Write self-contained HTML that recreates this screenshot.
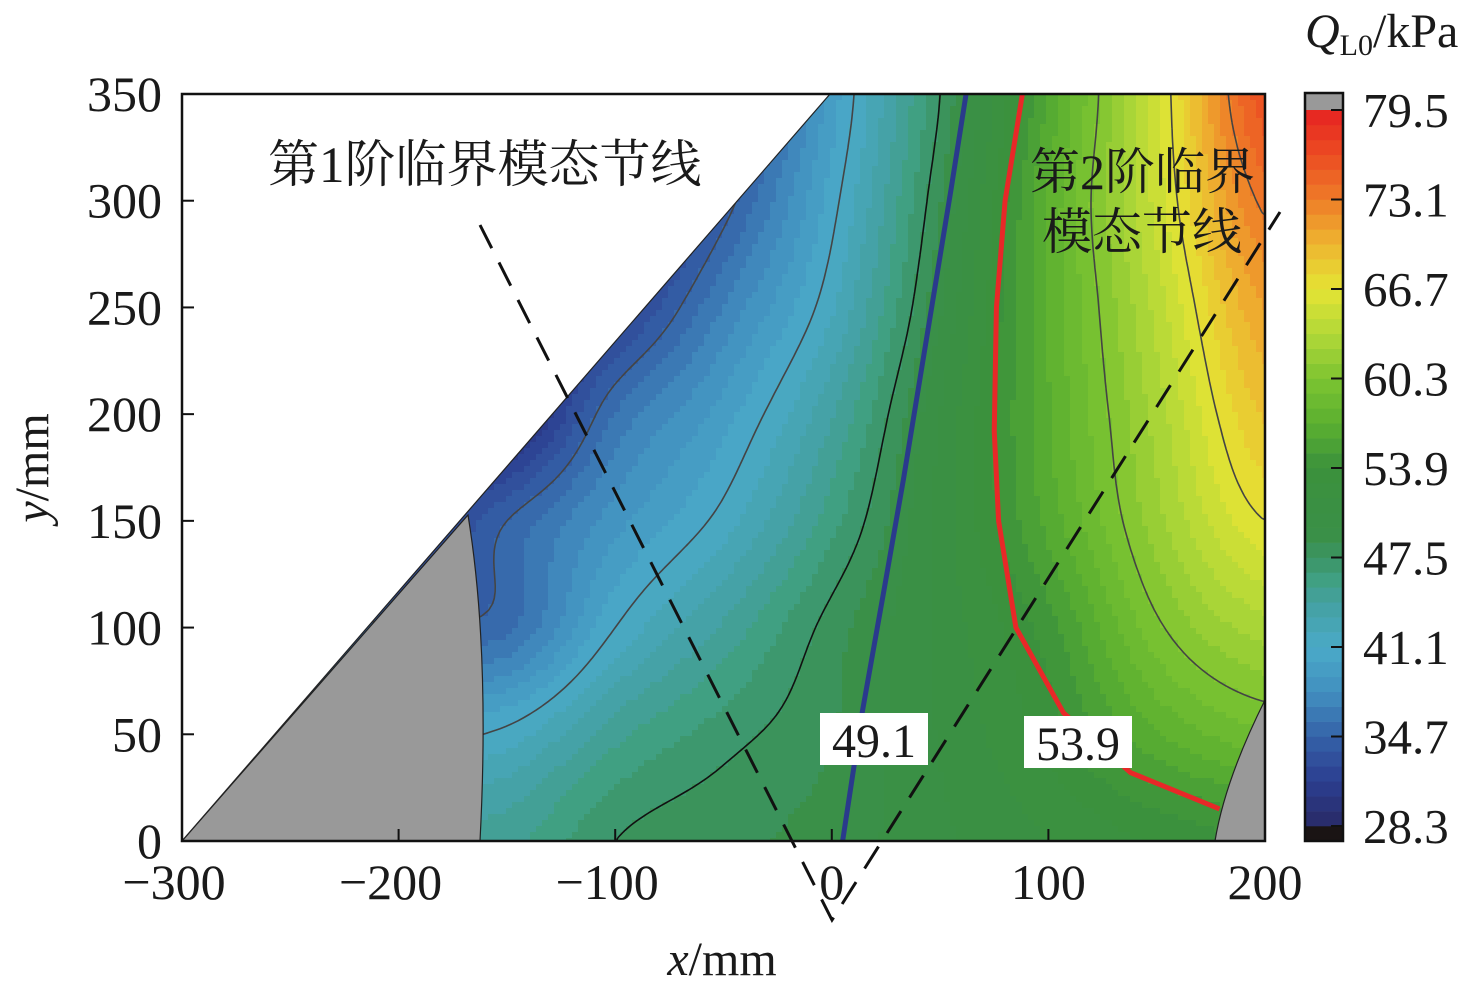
<!DOCTYPE html>
<html><head><meta charset="utf-8"><style>
html,body{margin:0;padding:0;background:#fff}
svg{display:block}
text{font-family:"Liberation Serif","Noto Serif CJK SC",serif;fill:#1a1a1a}
</style></head><body>
<div style="position:relative;width:1476px;height:991px">
<svg id="chart" width="1476" height="991" viewBox="0 0 1476 991" xmlns="http://www.w3.org/2000/svg">
<defs><clipPath id="dom"><polygon points="182,841 830,94 1265,94 1265,841"/></clipPath></defs>
<g id="field" clip-path="url(#dom)"></g>
<g id="iso" clip-path="url(#dom)"></g>
<g id="overlay"></g>
</svg>
<script>
// grid data (kPa): columns x, rows y
const xCats=[-300,-250,-200,-150,-100,-50,0,50,100,150,200];
const yCats=[0,50,100,150,200,250,300,350];
const row0=[44,44,44.5,45,47.5,48.3,49,50.5,51.8,53,54];
const row50=[40,40,40.5,41.5,45,47,48.5,50.8,53.3,57,59];
const row100=[35,35,35,35.5,41.1,44.5,48,51,54.5,60,63];
const row150=[31,31,31,34.7,38.5,41.6,46,51.1,56.4,62,66.7];
const row200=[29,29,29,29,35.8,39.5,44.2,50.7,57,62.9,69];
const row250=[29,29,29,29,31.7,36.9,42,49.5,57.1,63.9,71];
const row300=[29,29,29,29,29,34,40.6,48.5,57.2,65,73.5];
const row350=[29,29,29,29,29,32,39.5,47.5,56.2,65.3,76];
const rows=[row0,row50,row100,row150,row200,row250,row300,row350];
const blueX=[5,14,24,33,55,62], blueY=[0,60,117,169,305,350];
const redX=[179,138,107,85,77,75,76,80,88], redY=[15,32,60,100,150,192,250,300,350];
const isoLevels=[34.7,41.1,47.5,60.3,66.7,73.1];
const xTicks=[-300,-200,-100,0,100,200];
const yTicks=[0,50,100,150,200,250,300,350];
const cbTicks=[79.5,73.1,66.7,60.3,53.9,47.5,41.1,34.7,28.3];

const NS='http://www.w3.org/2000/svg';
const X=x=>182+(x+300)*1083/500, Y=y=>841-y*747/350;
const Xi=px=>(px-182)*500/1083-300, Yi=py=>(841-py)*350/747;
const stops=[[28.3,'#282a66'],[31.5,'#2c3e90'],[34.7,'#3562a8'],[37.9,'#4290c0'],[41.1,'#4aaac8'],[44.3,'#44a0a0'],[46,'#40a080'],[47.5,'#3c9464'],[49.1,'#3a9048'],[53.9,'#3b913c'],[57.1,'#5bb030'],[60.3,'#7dc431'],[63.5,'#b2d838'],[66.7,'#e5e434'],[70,'#eeb430'],[73.1,'#ee7c28'],[76.3,'#ec4c22'],[79.5,'#e62222']];
function hex(c){return [1,3,5].map(i=>parseInt(c.substr(i,2),16));}
function cmap(v){
 const step=6.4/6; let q=28.3+(Math.floor((v-28.3)/step)+0.5)*step;
 q=Math.max(28.3,Math.min(79.5,q));
 for(let i=0;i<stops.length-1;i++){const[a,ca]=stops[i],[b,cb]=stops[i+1];
  if(q<=b){const t=(q-a)/(b-a),A=hex(ca),B=hex(cb);return 'rgb('+A.map((u,k)=>Math.round(u+(B[k]-u)*t)).join(',')+')';}}
 return stops[stops.length-1][1];
}
function cr(p0,p1,p2,p3,t){return 0.5*((2*p1)+(-p0+p2)*t+(2*p0-5*p1+4*p2-p3)*t*t+(-p0+3*p1-3*p2+p3)*t*t*t);}
function gv(j,i){j=Math.max(0,Math.min(yCats.length-1,j));i=Math.max(0,Math.min(xCats.length-1,i));return rows[j][i];}
function field(x,y){
 let fx=(x-xCats[0])/50, fy=(y-yCats[0])/50;
 fx=Math.max(0,Math.min(xCats.length-1.001,fx)); fy=Math.max(0,Math.min(yCats.length-1.001,fy));
 const i=Math.floor(fx),j=Math.floor(fy),tx=fx-i,ty=fy-j;
 const r=[];
 for(let m=-1;m<=2;m++)r.push(cr(gv(j+m,i-1),gv(j+m,i),gv(j+m,i+1),gv(j+m,i+2),tx));
 return cr(r[0],r[1],r[2],r[3],ty);
}
function el(tag,attrs,parent){const e=document.createElementNS(NS,tag);for(const k in attrs)e.setAttribute(k,attrs[k]);(parent||document.getElementById('overlay')).appendChild(e);return e;}
const F=document.getElementById('field');
const S=6;
for(let py=94;py<841;py+=S){for(let px=182;px<1265;px+=S){
 const r=el('rect',{x:px,y:py,width:S+0.6,height:S+0.6,fill:cmap(field(Xi(px+S/2),Yi(py+S/2)))},F);
 
 
}}
const ISO=document.getElementById('iso');
isoLevels.forEach(L=>{
 let d='';
 for(let py=94;py<841;py+=S){for(let px=182;px<1265;px+=S){
  const P=[[px,py],[px+S,py],[px+S,py+S],[px,py+S]];
  const V=P.map(p=>field(Xi(p[0]),Yi(p[1])));
  const pts=[];
  for(let k=0;k<4;k++){const a=V[k],b=V[(k+1)%4];
   if((a<L)!==(b<L)){const t=(L-a)/(b-a),p=P[k],q=P[(k+1)%4];pts.push([p[0]+(q[0]-p[0])*t,p[1]+(q[1]-p[1])*t]);}}
  for(let k=0;k+1<pts.length;k+=2)d+='M'+pts[k][0].toFixed(1)+','+pts[k][1].toFixed(1)+'L'+pts[k+1][0].toFixed(1)+','+pts[k+1][1].toFixed(1);
 }}
 const p=el('path',{d:d,fill:'none',stroke:L===47.5?'#111':'#444','stroke-width':1.6},ISO);
 
 
});
let g=el('path',{d:'M182,841 L468,515 Q490,650 480,841 Z',fill:'#999',stroke:'#222','stroke-width':1.2});

g=el('path',{d:'M1215,841 Q1225,780 1265,700 L1265,841 Z',fill:'#999',stroke:'#222','stroke-width':1.2});

g=el('line',{x1:182,y1:841,x2:830,y2:94,stroke:'#222','stroke-width':1.2});

function poly(xs,ys,col,name){const p=el('polyline',{points:xs.map((x,i)=>X(x)+','+Y(ys[i])).join(' '),fill:'none',stroke:col,'stroke-width':5,'stroke-linejoin':'round'});
 }
poly(blueX,blueY,'#2a3a8c','contour-49-1');
poly(redX,redY,'#e82828','contour-53-9');
g=el('polyline',{points:'480,225 832,920 1280,212',fill:'none',stroke:'#111','stroke-width':3,'stroke-dasharray':'26,16'});

g=el('rect',{x:182,y:94,width:1083,height:747,fill:'none',stroke:'#111','stroke-width':2.5});

xTicks.forEach(v=>{
 const t=el('line',{x1:X(v),y1:841,x2:X(v),y2:829,stroke:'#111','stroke-width':2});
 
 const l=el('text',{x:X(v)+(v<0?-8:0),y:899,'text-anchor':'middle','font-size':50});l.textContent=(v<0?'\u2212':'')+Math.abs(v);
 
});
yTicks.forEach(v=>{
 const t=el('line',{x1:182,y1:Y(v),x2:194,y2:Y(v),stroke:'#111','stroke-width':2});
 
 const l=el('text',{x:162,y:Y(v)+17,'text-anchor':'end','font-size':50});l.textContent=v;
 
});
[[820,713,'49.1','label-49-1'],[1024,716,'53.9','label-53-9']].forEach(([x,y,s,n])=>{
 const r=el('rect',{x:x,y:y,width:108,height:52,fill:'#fff'});
 const t=el('text',{x:x+54,y:y+44,'text-anchor':'middle','font-size':48});t.textContent=s;
});
const cbTop=110,cbBot=826,cbL=1305,cbW=38;
const cy=v=>cbBot-(v-28.3)*(cbBot-cbTop)/51.2;
g=el('rect',{x:cbL,y:93,width:cbW,height:17,fill:'#999'});
g=el('rect',{x:cbL,y:826,width:cbW,height:15,fill:'#1a1414'});
const step=6.4/6;
for(let k=0;k<48;k++){const v0=28.3+k*step;
 const r=el('rect',{x:cbL,y:cy(v0+step),width:cbW,height:cy(v0)-cy(v0+step)+0.3,fill:cmap(v0+step/2)});
 }
g=el('rect',{x:cbL,y:93,width:cbW,height:748,fill:'none',stroke:'#111','stroke-width':2.5});
cbTicks.forEach(v=>{
 const t=el('line',{x1:cbL+cbW-12,y1:cy(v),x2:cbL+cbW,y2:cy(v),stroke:'#111','stroke-width':2});
 const l=el('text',{x:1363,y:cy(v)+17,'font-size':49});l.textContent=v.toFixed(1);
});
</script>
<svg style="position:absolute;left:0;top:0" width="1476" height="991">
<text x="268" y="182" font-size="51">第1阶临界模态节线</text>
<text x="1030" y="189" font-size="50">第2阶临界</text>
<text x="1042" y="249" font-size="50">模态节线</text>
<text x="722" y="975" text-anchor="middle" font-size="48"><tspan font-style="italic">x</tspan>/mm</text>
<text transform="translate(48,468) rotate(-90)" text-anchor="middle" font-size="48"><tspan font-style="italic">y</tspan>/mm</text>
<text x="1305" y="47" font-size="48"><tspan font-style="italic">Q</tspan><tspan font-size="30" dy="8">L0</tspan><tspan dy="-8">/kPa</tspan></text>
</svg>
</div>
</body></html>
